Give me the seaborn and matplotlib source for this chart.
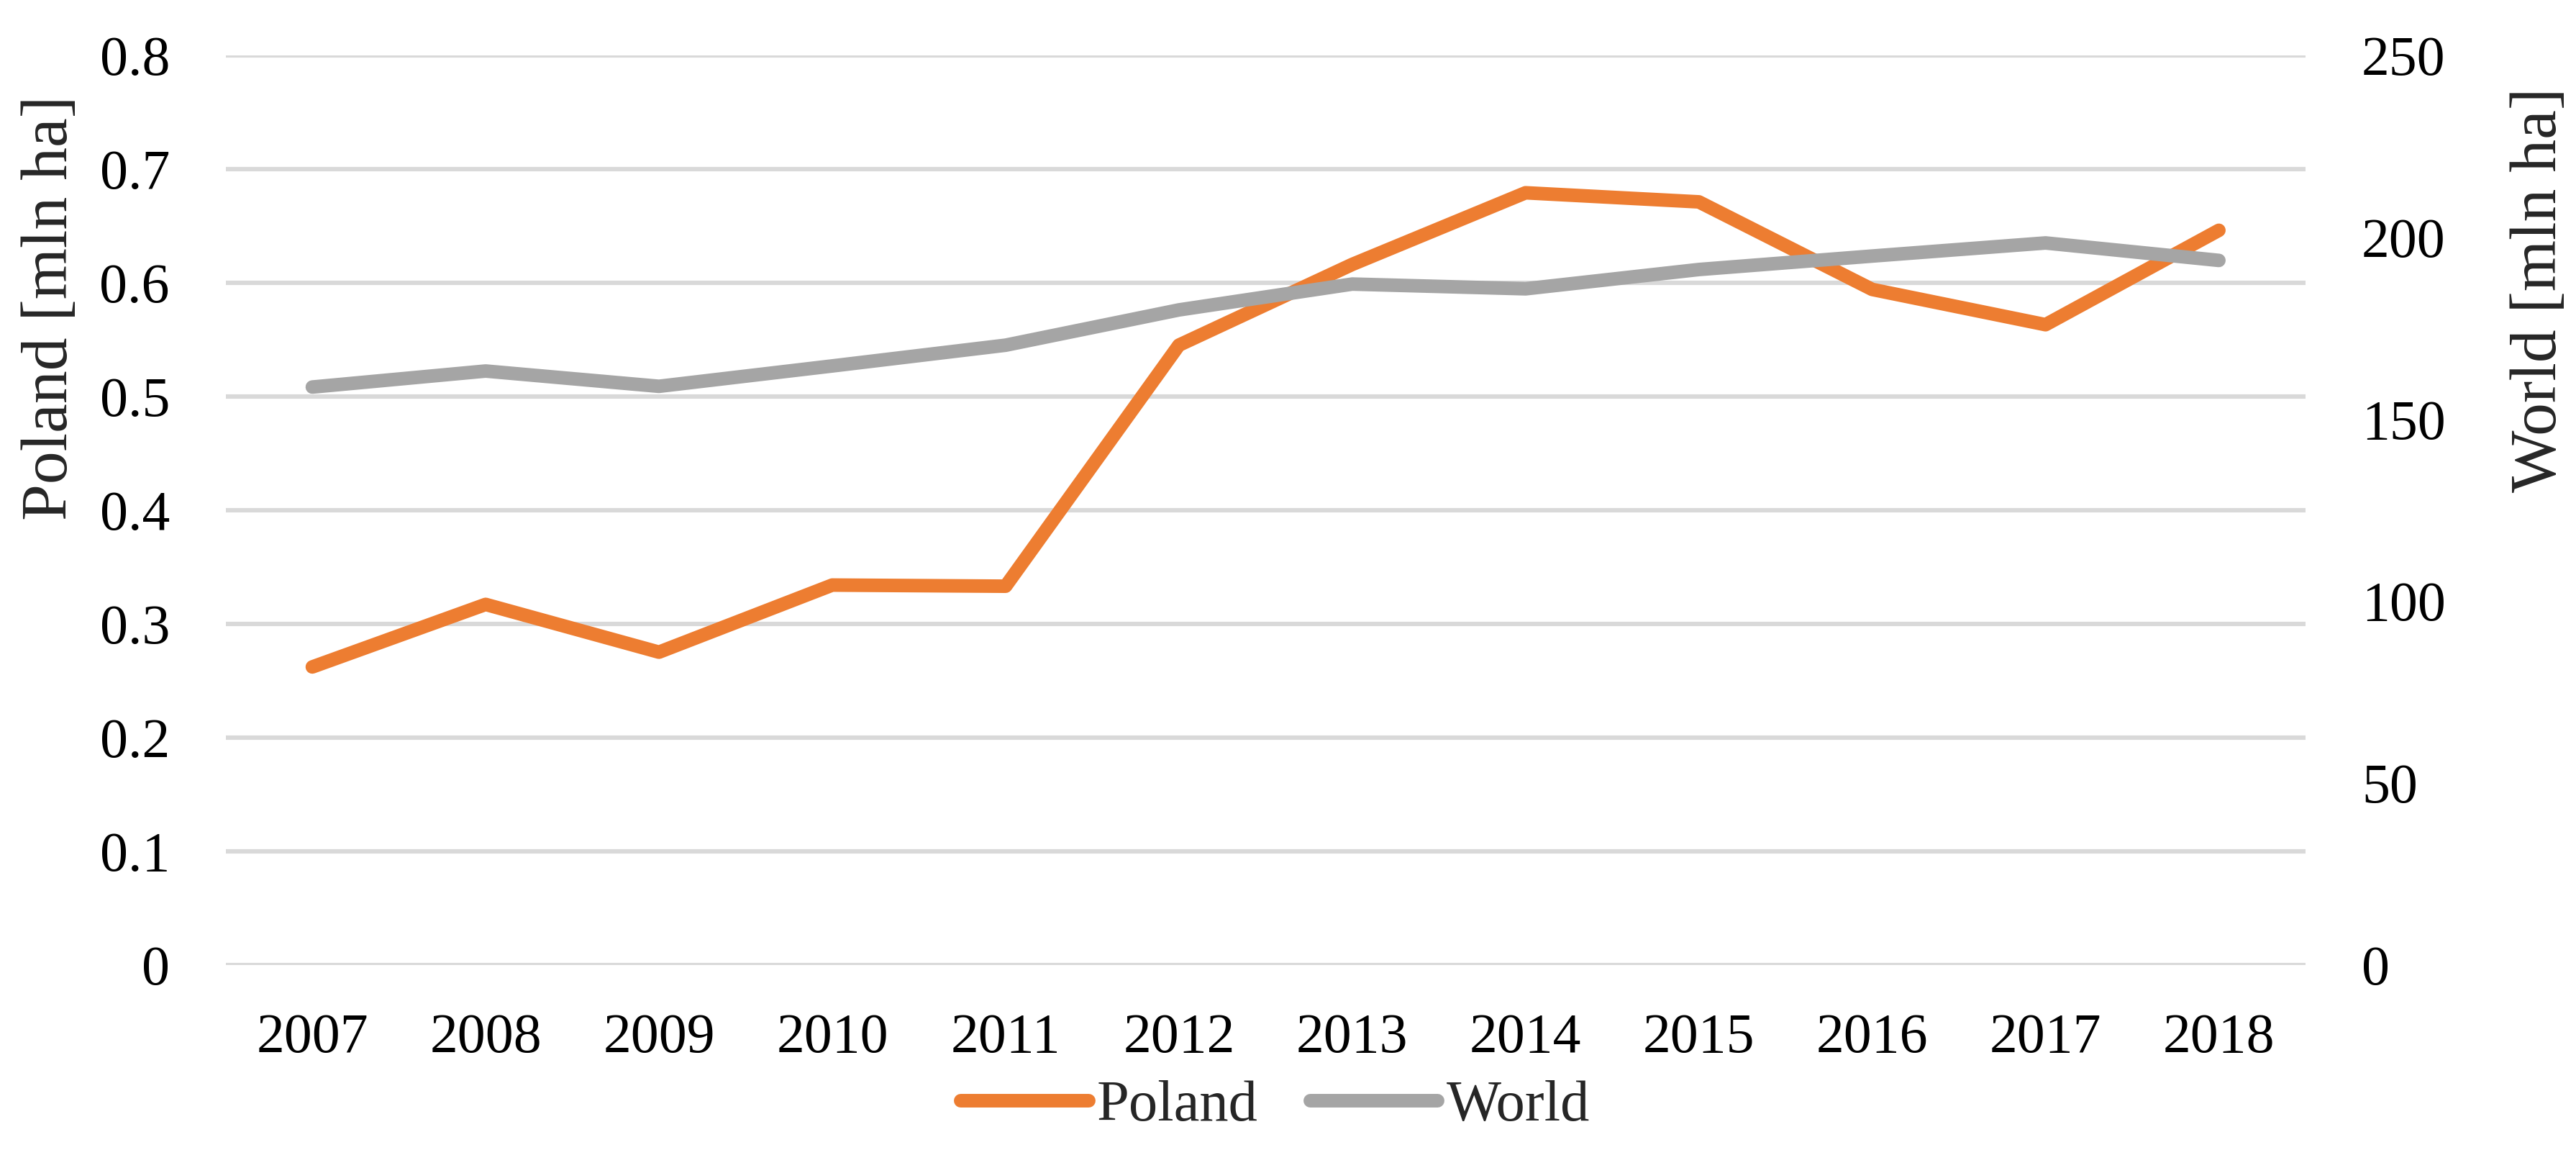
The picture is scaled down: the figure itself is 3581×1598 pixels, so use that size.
import matplotlib.pyplot as plt
import pandas as pd
import seaborn as sns
from matplotlib.ticker import FixedLocator

# Values
years = ["2007", "2008", "2009", "2010", "2011", "2012",
         "2013", "2014", "2015", "2016", "2017", "2018"]
poland = [0.262, 0.317, 0.275, 0.334, 0.333, 0.545,
          0.616, 0.679, 0.671, 0.594, 0.563, 0.646]
world = [158.8, 163.2, 159.0, 164.6, 170.3, 180.0,
         187.1, 185.8, 191.1, 194.8, 198.4, 193.6]

left_ticks = [0, 0.1, 0.2, 0.3, 0.4, 0.5, 0.6, 0.7, 0.8]
left_tick_labels = ["0", "0.1", "0.2", "0.3", "0.4", "0.5", "0.6", "0.7", "0.8"]
right_ticks = [0, 50, 100, 150, 200, 250]
right_tick_labels = ["0", "50", "100", "150", "200", "250"]

ORANGE = "#ED7D31"
GREY = "#A5A5A5"
GRID = "#D9D9D9"

sns.set_style("white")
plt.rcParams["font.family"] = ["Liberation Serif", "DejaVu Serif"]

df = pd.DataFrame({"year": years, "poland": poland, "world": world})

fig = plt.figure(figsize=(17.905, 7.99), dpi=200)
ax = fig.add_axes([0.0876, 0.161, 0.8074, 0.791])
ax2 = ax.twinx()

sns.lineplot(data=df, x="year", y="poland", ax=ax, color=ORANGE,
             linewidth=6.8, solid_capstyle="round", label="Poland", legend=False)
sns.lineplot(data=df, x="year", y="world", ax=ax2, color=GREY,
             linewidth=6.8, solid_capstyle="round", label="World", legend=False)

ax.set_xlim(-0.5, len(years) - 0.5)
ax.set_ylim(0, 0.8)
ax2.set_ylim(0, 250)

ax.yaxis.set_major_locator(FixedLocator(left_ticks))
ax.set_yticklabels(left_tick_labels)
ax2.yaxis.set_major_locator(FixedLocator(right_ticks))
ax2.set_yticklabels(right_tick_labels)

ax.grid(axis="y", color=GRID, linewidth=2.2)
ax.grid(axis="x", visible=False)
ax2.grid(False)
ax.set_axisbelow(True)

for a in (ax, ax2):
    for s in a.spines.values():
        s.set_visible(False)
    a.tick_params(length=0, labelsize=28, colors="black")
ax.tick_params(axis="y", pad=28)
ax2.tick_params(axis="y", pad=28)
ax.tick_params(axis="x", pad=24)

ax.set_xlabel("")
ax.set_ylabel("Poland [mln ha]", fontsize=33, va="center", rotation=90)
ax.yaxis.set_label_coords(-0.0839, 0.722)
ax2.set_ylabel("World [mln ha]", fontsize=33, va="center", rotation=90)
ax2.yaxis.set_label_coords(1.1127, 0.742)

handles = ax.get_lines()[:1] + ax2.get_lines()[:1]
fig.legend(handles, ["Poland", "World"], loc="center", bbox_to_anchor=(0.495, 0.038),
           ncol=2, frameon=False, fontsize=29, handlelength=2.2,
           handletextpad=0.15, columnspacing=0.9)

plt.savefig("out.png", dpi=200)
plt.close()
